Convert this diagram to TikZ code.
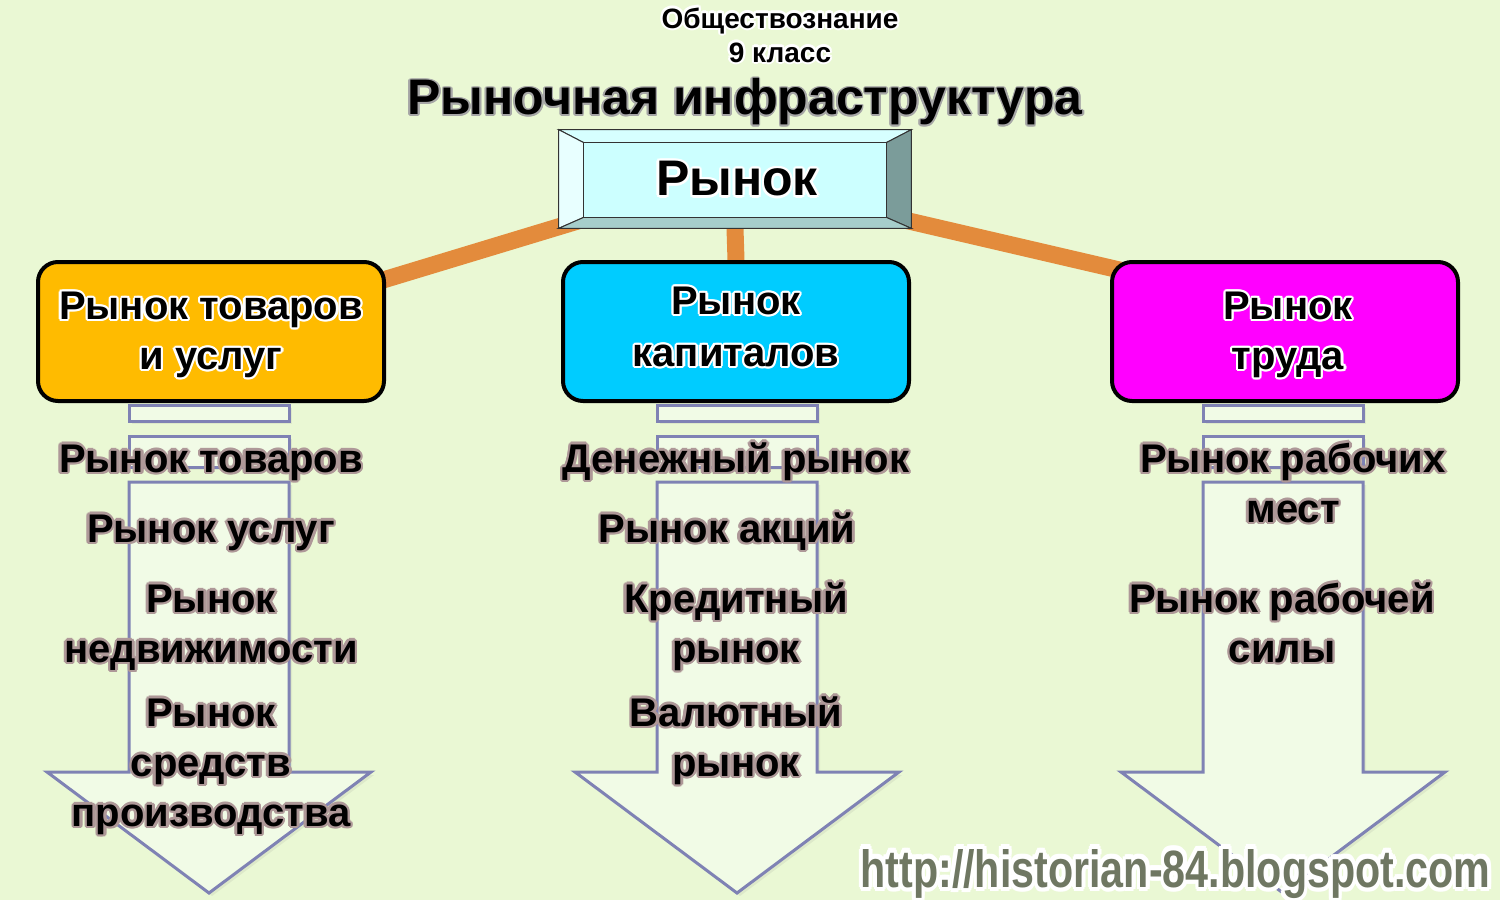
\documentclass[tikz,border=0pt]{standalone}
\usepackage{fontspec}
\setmainfont{Liberation Sans}
\usepackage{contour}
\contournumber{12}
\usetikzlibrary{calc,shadows}
\pgfdeclarelayer{bgl}
\pgfdeclarelayer{back}
\pgfsetlayers{bgl,back,main}
\definecolor{bg}{HTML}{EAF8D4}
\definecolor{conn}{HTML}{E38B3C}
\definecolor{goodsc}{HTML}{FFBB00}
\definecolor{capc}{HTML}{00CCFF}
\definecolor{labc}{HTML}{FF00FF}
\definecolor{arrfill}{HTML}{F1FBE6}
\definecolor{arrline}{HTML}{7F82B4}
\definecolor{colout}{HTML}{AE9898}
\definecolor{urlc}{HTML}{6F7762}
\definecolor{bvface}{HTML}{CCFFFF}
\definecolor{bvtop}{HTML}{D6FFFF}
\definecolor{bvleft}{HTML}{E8FFFF}
\definecolor{bvright}{HTML}{7B9C9A}
\definecolor{bvbot}{HTML}{A6CECB}
\newcommand\mycolt[1]{{\contourlength{1.3pt}\contour{colout}{#1}}}
\newcommand\mywht[1]{{\contourlength{1.1pt}\contour{white}{#1}}}
\tikzset{
  coltext/.style={font=\fontsize{20}{25}\selectfont\bfseries, inner sep=0pt, text height=14.3pt, text depth=0pt, anchor=center},
  boxtext/.style={font=\fontsize{20}{25}\selectfont\bfseries, inner sep=0pt, text height=14.3pt, text depth=0pt, anchor=center},
  mktbox/.style={draw=black, line width=2pt, rounded corners=10pt, minimum width=173pt, minimum height=69.5pt, inner sep=0pt},
  stripe/.style={draw=arrline, fill=arrfill, line width=1.5pt, drop shadow={opacity=0.12, shadow xshift=1.5pt, shadow yshift=-1.5pt}},
  connector/.style={draw=conn, line width=8.5pt},
  bevline/.style={draw=black!80, line width=0.5pt},
}
\begin{document}
\begin{tikzpicture}[x=0.5pt,y=-0.5pt]
\begin{pgfonlayer}{bgl}
\fill[bg] (0,0) rectangle (1500,900);
\end{pgfonlayer}
\useasboundingbox (0,0) rectangle (1500,900);

% striped arrows
\foreach \c in {209, 737, 1283}{
  \draw[stripe] (\c-80,405) rectangle (\c+80,421);
  \draw[stripe] (\c-80,436) rectangle (\c+80,467);
  \draw[stripe, line join=miter] (\c-80,482) -- (\c-80,772) -- (\c-162,772) -- (\c,893) -- (\c+162,772) -- (\c+80,772) -- (\c+80,482) -- cycle;
}

% market boxes
\node[mktbox, fill=goodsc] (goods) at (211,331.5) {};
\node[mktbox, fill=capc] (capital) at (736,331.5) {};
\node[mktbox, fill=labc] (labour) at (1285,331.5) {};
\node[minimum width=176pt, minimum height=49pt, inner sep=0pt] (rynok) at (735,179) {};

% connectors (behind boxes)
\begin{pgfonlayer}{back}
\path[connector] ($(goods.north east)+(-26,27)$) -- ($(rynok.south west)+(41,-14)$);
\path[connector] ($(rynok.south east)+(-31,-14)$) -- ($(labour.north west)+(31,15)$);
\path[connector] (rynok.south) -- (capital.north);
\end{pgfonlayer}

% bevel box faces
\coordinate (onw) at (rynok.north west); \coordinate (one) at (rynok.north east);
\coordinate (ose) at (rynok.south east); \coordinate (osw) at (rynok.south west);
\coordinate (inw) at ($(onw)+(25,13)$); \coordinate (ine) at ($(one)+(-25,13)$);
\coordinate (ise) at ($(ose)+(-25,-11)$); \coordinate (isw) at ($(osw)+(25,-11)$);
\filldraw[bevline, fill=bvtop] (onw) -- (one) -- (ine) -- (inw) -- cycle;
\filldraw[bevline, fill=bvleft] (onw) -- (inw) -- (isw) -- (osw) -- cycle;
\filldraw[bevline, fill=bvright] (one) -- (ose) -- (ise) -- (ine) -- cycle;
\filldraw[bevline, fill=bvbot] (osw) -- (isw) -- (ise) -- (ose) -- cycle;
\filldraw[bevline, fill=bvface] (inw) rectangle (ise);
\draw[black!80, line width=0.8pt] (onw) rectangle (ose);

% titles
\node[font=\fontsize{14}{16}\selectfont\bfseries, inner sep=0pt, text height=10pt, text depth=0pt] (subj) at (780,18) {\mywht{Обществознание}};
\node[font=\fontsize{14}{16}\selectfont\bfseries, inner sep=0pt, text height=10pt, text depth=0pt] (grade) at (780,52) {\mywht{9 класс}};
\node[font=\fontsize{25}{30}\selectfont\bfseries, inner sep=0pt, text height=17.9pt, text depth=0pt] (title) at (745,97) {{\contourlength{0.9pt}\contour{black!35}{Рыночная инфраструктура}}};
\node[font=\fontsize{25}{30}\selectfont\bfseries, inner sep=0pt, text height=17.9pt, text depth=0pt] (rynoktxt) at (737,178) {\mywht{Рынок}};

% box labels
\node[boxtext] (g1) at (211,305) {\mywht{Рынок товаров}};
\node[boxtext] (g2) at (211,355) {\mywht{и услуг}};
\node[boxtext] (k1) at (736,300) {\mywht{Рынок}};
\node[boxtext] (k2) at (736,352) {\mywht{капиталов}};
\node[boxtext] (t1) at (1288,305) {\mywht{Рынок}};
\node[boxtext] (t2) at (1288,355) {\mywht{труда}};

% column items
\node[coltext] (a1) at (211,458) {\mycolt{Рынок товаров}};
\node[coltext] (a2) at (211,528) {\mycolt{Рынок услуг}};
\node[coltext] (a3) at (211,598) {\mycolt{Рынок}};
\node[coltext] (a4) at (211,648) {\mycolt{недвижимости}};
\node[coltext] (a5) at (211,712) {\mycolt{Рынок}};
\node[coltext] (a6) at (211,762) {\mycolt{средств}};
\node[coltext] (a7) at (211,812) {\mycolt{производства}};

\node[coltext] (b1) at (736,458) {\mycolt{Денежный рынок}};
\node[coltext] (b2) at (727,528) {\mycolt{Рынок акций}};
\node[coltext] (b3) at (736,598) {\mycolt{Кредитный}};
\node[coltext] (b4) at (736,648) {\mycolt{рынок}};
\node[coltext] (b5) at (736,712) {\mycolt{Валютный}};
\node[coltext] (b6) at (736,762) {\mycolt{рынок}};

\node[coltext] (c1) at (1293,458) {\mycolt{Рынок рабочих}};
\node[coltext] (c2) at (1293,508) {\mycolt{мест}};
\node[coltext] (c3) at (1282,598) {\mycolt{Рынок рабочей}};
\node[coltext] (c4) at (1282,648) {\mycolt{силы}};

% url
\node[anchor=base west, inner sep=0pt, text=urlc] (url) at (860,887) {\resizebox{315pt}{19pt}{\bfseries\contourlength{0.9pt}\contour{white}{http://historian-84.blogspot.com}}};
\end{tikzpicture}
\end{document}
